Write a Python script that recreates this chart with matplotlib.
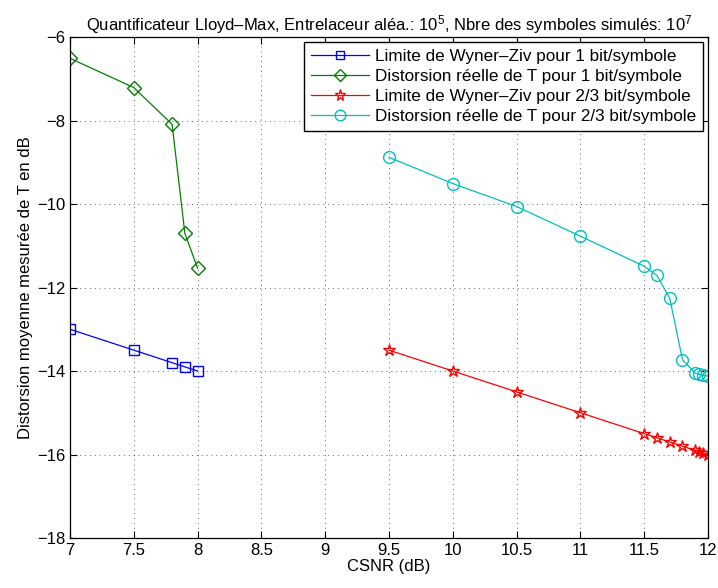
import matplotlib
matplotlib.use("Agg")
import matplotlib.pyplot as plt

plt.rcParams['font.family'] = ['Liberation Sans', 'DejaVu Sans']
plt.rcParams['mathtext.fontset'] = 'custom'
plt.rcParams['mathtext.rm'] = 'Liberation Sans'
plt.rcParams['mathtext.it'] = 'Liberation Sans:italic'

# 1 bit/symbole
x_1bit = [7, 7.5, 7.8, 7.9, 8]
wz_1bit = [-13.0, -13.5, -13.8, -13.9, -14.0]
dist_1bit = [-6.51, -7.21, -8.09, -10.70, -11.54]

# 2/3 bit/symbole
x_23bit = [9.5, 10, 10.5, 11, 11.5, 11.6, 11.7, 11.8, 11.9, 11.93, 11.96, 12]
wz_23bit = [-13.5, -14.0, -14.5, -15.0, -15.5, -15.6, -15.7, -15.8, -15.9, -15.93, -15.96, -16.0]
dist_23bit = [-8.88, -9.51, -10.06, -10.77, -11.49, -11.71, -12.26, -13.73,
              -14.05, -14.08, -14.1, -14.12]

fig = plt.figure(figsize=(7.18, 5.88), dpi=100)
ax = fig.add_axes([0.0975, 0.085, 0.8886, 0.852])

ax.plot(x_1bit, wz_1bit, color='#0000ff', marker='s', markersize=7, mfc='none',
        lw=0.9, label='Limite de Wyner\u2013Ziv pour 1 bit/symbole')
ax.plot(x_1bit, dist_1bit, color='#008000', marker='D', markersize=7, mfc='none',
        lw=0.9, label='Distorsion r\u00e9elle de T pour 1 bit/symbole')
ax.plot(x_23bit, wz_23bit, color='#ff0000', marker='*', markersize=9, mfc='none',
        lw=0.9, label='Limite de Wyner\u2013Ziv pour 2/3 bit/symbole')
ax.plot(x_23bit, dist_23bit, color='#00bfbf', marker='o', markersize=8.5, mfc='none',
        lw=0.9, label='Distorsion r\u00e9elle de T pour 2/3 bit/symbole')

ax.set_xlim(7, 12)
ax.set_ylim(-18, -6)
ax.set_xticks([7, 7.5, 8, 8.5, 9, 9.5, 10, 10.5, 11, 11.5, 12])
ax.set_xticklabels(['7', '7.5', '8', '8.5', '9', '9.5', '10', '10.5', '11', '11.5', '12'])
ax.set_yticks([-18, -16, -14, -12, -10, -8, -6])
ax.set_yticklabels(['\u221218', '\u221216', '\u221214', '\u221212', '\u221210', '\u22128', '\u22126'])
ax.tick_params(direction='in', labelsize=12, top=True, right=True, length=5)
ax.grid(True, linestyle=(0, (1, 4)), color='black', linewidth=0.7, alpha=0.6)
for s in ax.spines.values():
    s.set_linewidth(0.9)

ax.set_xlabel('CSNR (dB)', fontsize=12, labelpad=1)
ax.set_ylabel('Distorsion moyenne mesur\u00e9e de T en dB', fontsize=12, labelpad=3)
ax.set_title('Quantificateur Lloyd\u2013Max, Entrelaceur al\u00e9a.: $10^5$, '
             'Nbre des symboles simul\u00e9s: $10^7$', fontsize=12, pad=5)

ax.legend(loc='upper right', fontsize=12.3, frameon=True, fancybox=False,
          edgecolor='black', framealpha=1, borderaxespad=0.3, handlelength=3.4,
          handletextpad=0.35, labelspacing=0.3, borderpad=0.4, markerscale=0.9)

fig.savefig('out.png', dpi=100)
